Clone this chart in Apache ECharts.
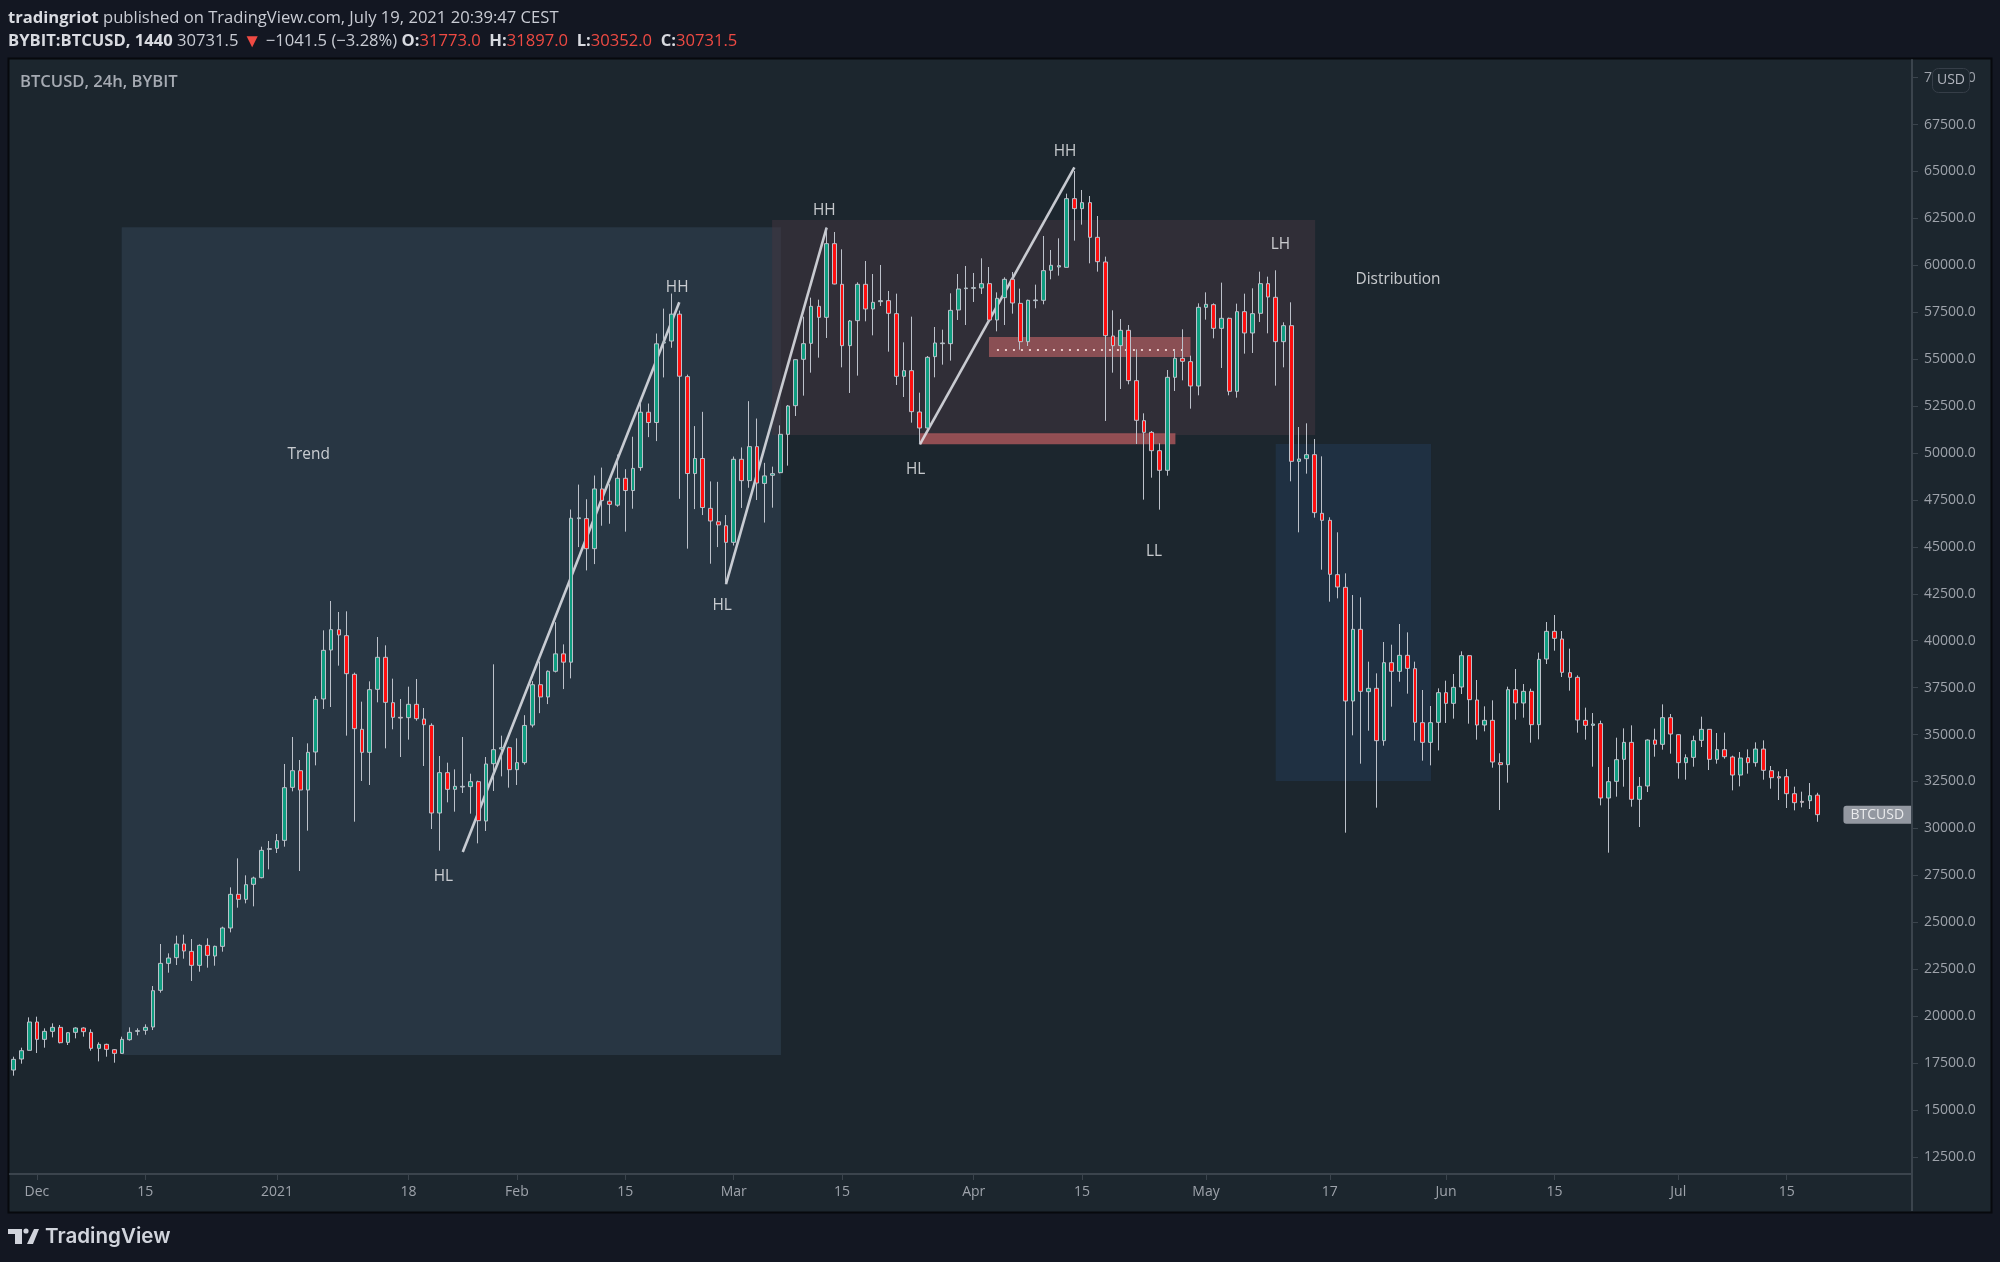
<!DOCTYPE html>
<html>
<head>
<meta charset="utf-8">
<style>html,body{margin:0;padding:0;background:#131722}#chart{width:2000px;height:1262px}</style>
<script src="https://cdn.jsdelivr.net/npm/echarts@6/dist/echarts.min.js"></script>
</head>
<body>
<div id="chart"></div>
<script>
// BTCUSD daily candles, 28 Nov 2020 to 19 Jul 2021
const opens = [
17127,17713,18175,19684,18761,19187,19400,18601,19134,19365,
19134,18281,18494,18210,18015,18743,19187,19240,19418,21372,
22810,23112,23840,23449,22703,23769,23201,23716,24693,26486,
26220,27019,27374,28884,28937,29363,32187,33075,32045,34070,
36894,39504,40588,40268,38208,35278,34052,37409,39114,36698,
35917,35899,36610,35828,35491,30820,32969,32081,32205,32223,
32489,30393,33448,34230,34301,33129,33504,35506,37655,37002,
38371,39298,38856,46504,46504,44903,48085,47431,47221,48653,
48000,49222,52172,51624,55859,55965,57397,54068,48906,49707,
47052,46336,46125,45240,49665,48527,50339,48380,48810,48952,
50995,52522,54991,55843,57815,57228,61153,58987,55719,57051,
58987,57672,58063,58116,57424,54085,54387,52185,51332,55133,
55825,55825,57619,58756,58774,58791,59022,57086,58276,59253,
57974,55932,58116,58134,59733,59910,59892,63551,63018,63338,
61491,60177,56234,55719,56536,53854,51723,51101,50124,49077,
54032,55044,54866,53570,57761,57903,56642,57175,53286,57530,
56394,57442,59022,58294,55932,56784,49556,49698,49911,46786,
46413,43518,42843,36787,40605,37284,37462,34674,38829,38368,
39220,38510,35632,34584,35650,37231,36663,37533,39202,36840,
35508,35757,33501,33395,37391,36680,37302,35526,39024,40499,
40090,38296,38048,35757,35490,35579,31619,32507,33679,34584,
31548,32258,34709,34478,35899,34993,33501,33785,34691,35277,
33679,34194,33803,32844,33767,33501,34229,33075,32755,32755,
31849,31441,31476,31773];
const highs = [
17837,18317,19933,19969,19347,19613,19524,19151,19400,19400,
19294,18601,18530,18246,18903,19400,19347,19560,21602,23840,
23343,24284,24337,24106,23822,24142,23751,24764,26859,28404,
27499,27428,29026,29328,29701,33431,34869,33644,34532,37054,
40552,42115,41529,41565,38297,36752,37835,40197,39753,37977,
36894,37551,37959,36414,35597,33857,33502,33146,34869,32915,
32542,33803,38741,34940,34354,34798,36032,37845,38898,38413,
40984,39804,46989,48316,47537,48801,49222,48337,49918,49138,
50866,52699,52636,56365,57692,58493,57587,54174,51434,52193,
48485,48464,46694,49812,50297,52762,51835,49475,49272,51474,
52558,54991,57264,58276,58170,62006,61775,60851,57086,59093,
60230,59537,60017,58632,58489,55896,57264,53215,55168,56713,
56571,58507,59537,59964,59591,60372,59910,58560,59360,59644,
58756,58170,58969,61562,60816,61438,63817,65025,64013,63693,
62627,60461,57601,57140,56820,55524,52114,51172,50515,54422,
55488,56589,55186,57974,58560,57974,59076,57211,57957,58489,
58774,59662,59395,59733,56962,58028,51385,51581,50746,49822,
46573,45774,43589,42435,42310,38883,38261,39930,39788,40889,
40445,38883,37373,36520,37462,37870,38226,39433,39238,37906,
36503,36822,34003,37550,38492,37692,37444,39362,40996,41369,
40516,39575,38154,36432,36147,35739,33270,34833,35330,35490,
32737,34744,35313,36609,36094,35010,33945,34940,35952,35295,
35082,35100,33874,34069,34211,34584,34691,33324,33039,33164,
32222,31956,32418,31897];
const lows = [
16825,17465,18175,18033,18317,18867,18548,18459,18814,18903,
18157,17588,17837,17518,17997,18690,18974,19009,19258,21247,
22313,22721,23059,21869,22366,22579,22685,23432,24461,25776,
26007,25847,27339,27818,28689,29026,31974,27730,29878,33359,
36361,36467,38670,34940,30358,32525,32312,36716,34265,35278,
33803,34727,35739,33324,29967,28813,31388,30891,31885,30784,
29204,29861,31992,32773,32170,32312,33399,35380,36138,36623,
38308,37423,37992,44987,43744,44081,46125,46230,47137,45809,
47031,49054,50845,50634,54026,55606,47558,44903,47010,46694,
44102,44987,43007,45071,47073,48148,47495,46294,47087,48917,
49325,51972,53055,54280,55080,56127,58987,54565,53197,54121,
57015,56269,57832,55399,53623,52984,51616,50462,51297,54032,
54707,54920,57086,56820,58045,58472,56962,56483,56820,57424,
55506,55701,57708,57921,59253,59449,59892,61313,62166,60106,
59662,51705,54280,53410,53659,50480,47514,48686,46981,48793,
53304,53872,52362,53073,57104,56110,54529,53073,52948,55293,
55328,56980,56376,53588,54565,48490,45773,48899,46555,43784,
42079,42257,29772,34958,33448,35206,31104,34407,36485,37817,
37178,34674,33608,33359,34158,35615,35846,37160,35579,34727,
35171,33235,30979,32436,35792,35899,34567,34744,38758,39468,
38065,37337,35100,34727,33288,31228,28706,31690,32222,31157,
30073,31938,33821,34194,33981,32649,32595,33288,34336,33110,
33448,33714,32027,32240,32915,33288,32595,32116,31512,31086,
30961,31121,31032,30352];
const closes = [
17695,18157,19684,18761,19187,19400,18583,19116,19365,19170,
18281,18494,18228,18015,18761,19134,19223,19400,21354,22810,
23094,23840,23467,22703,23769,23236,23716,24693,26486,26220,
27001,27357,28831,28919,29346,32170,33075,32045,34052,36876,
39487,40588,40304,38243,35313,34052,37391,39114,36716,35917,
35881,36610,35846,35526,30820,32969,32081,32241,32241,32489,
30411,33431,34194,34301,33129,33502,35485,37655,37002,38371,
39298,38856,46525,46546,44903,48085,47473,47263,48653,48000,
49180,52172,51624,55817,55901,57397,54090,48906,49707,47094,
46378,46167,45240,49665,48527,50339,48400,48780,48899,50995,
52504,54973,55825,57815,57228,61153,59004,55719,57033,58987,
57672,58028,58116,57442,54085,54387,52202,51332,55097,55861,
55861,57601,58738,58791,58809,59022,57086,58241,59253,57992,
55932,58134,58152,59715,60000,59981,63551,63018,63338,61491,
60194,56252,55719,56536,53854,51741,51101,50124,49077,54032,
55044,54884,53570,57761,57921,56642,57175,53286,57530,56394,
57424,59022,58312,55932,56784,49556,49680,49911,46821,46413,
43536,42861,36787,40605,37302,37462,34674,38829,38368,39220,
38527,35650,34584,35632,37231,36663,37515,39202,36858,35508,
35757,33537,33395,37391,36680,37302,35526,39007,40499,40126,
38314,38048,35774,35490,35561,31619,32489,33661,34584,31548,
32240,34709,34478,35899,35028,33501,33767,34673,35277,33679,
34194,33821,32844,33750,33501,34229,33093,32702,32684,31849,
31370,31388,31743,30731.5];

// Time axis: day offsets from the first candle and their labels
const tickDays = [3,17,34,51,65,79,93,107,124,138,154,170,185,199,215,229];
const tickLabels = ['Dec','15','2021','18','Feb','15','Mar','15','Apr','15','May','17','Jun','15','Jul','15'];
const priceTicks = [12500,15000,17500,20000,22500,25000,27500,30000,32500,35000,37500,40000,42500,45000,47500,50000,52500,55000,57500,60000,62500,65000,67500,70000];

// Drawn zones: [day from, price top, day to, price bottom, colour]
const zones = [
  [13.95, 62026, 99.1, 17926, 'rgba(52,70,88,0.50)'],
  [97.95, 62415, 168.1, 50960, 'rgba(68,54,64,0.50)'],
  [163.0, 50480, 183.07, 32525, 'rgba(36,61,88,0.48)'],
  [125.97, 56181, 152.0, 55115, 'rgba(168,91,95,0.75)'],
  [117.05, 51050, 150.05, 50464, 'rgba(172,88,92,0.82)']
];
// Trend lines: [day from, price from, day to, price to]
const trendLines = [
  [58.0, 28742, 85.97, 58030],
  [92.0, 43010, 105.0, 62005],
  [117.05, 50464, 137.0, 65223]
];
const midLevel = [127.0, 55489, 151.5, 55489];
// Swing labels: [day, price, text]
const notes = [
  [38.1, 50000, 'Trend'], [55.5, 27517, 'HL'], [85.7, 58914, 'HH'], [91.5, 41923, 'HL'],
  [104.7, 63001, 'HH'], [116.5, 49201, 'HL'], [135.8, 66118, 'HH'], [147.3, 44832, 'LL'],
  [163.6, 61157, 'LH'], [178.8, 59325, 'Distribution']
];

const FONT = '"Open Sans", sans-serif';
const candleData = opens.map((o, i) => [i, o, closes[i], lows[i], highs[i]]);
const lastIndex = opens.length - 1;

const chart = echarts.init(document.getElementById('chart'), null, {renderer: 'canvas'});

chart.setOption({
  animation: false,
  backgroundColor: '#131722',
  grid: {left: 9.83, right: 88, top: 60, bottom: 88, show: false},
  xAxis: {
    type: 'value', min: -0.5, max: 245.19, splitLine: {show: false},
    axisLine: {show: true, onZero: false, lineStyle: {color: '#3b444d', width: 2}},
    axisTick: {show: true, length: 6, customValues: tickDays, lineStyle: {color: '#3b444d'}},
    axisLabel: {
      customValues: tickDays, margin: 11, color: '#9ea3ab', fontFamily: FONT, fontSize: 14,
      formatter: v => tickLabels[tickDays.indexOf(v)] || ''
    }
  },
  yAxis: {
    type: 'value', position: 'right', min: 11587, max: 70938, scale: true, splitLine: {show: false},
    axisLine: {show: true, onZero: false, lineStyle: {color: '#3b444d', width: 2}},
    axisTick: {show: true, length: 6, customValues: priceTicks, lineStyle: {color: '#3b444d'}},
    axisLabel: {
      customValues: priceTicks, margin: 12, padding: [1, 0, 0, 0], color: '#9ea3ab', fontFamily: FONT, fontSize: 14,
      formatter: v => v.toFixed(1)
    }
  },
  series: [
    {
      type: 'custom', z: 1, clip: true, silent: true,
      data: zones,
      encode: {x: [0, 2], y: [1, 3]},
      renderItem: (params, api) => {
        const a = api.coord([api.value(0), api.value(1)]);
        const b = api.coord([api.value(2), api.value(3)]);
        return {type: 'rect', shape: {x: a[0], y: a[1], width: b[0] - a[0], height: b[1] - a[1]},
          style: {fill: zones[params.dataIndex][4]}};
      }
    },
    {
      type: 'custom', z: 2, silent: true,
      data: trendLines,
      encode: {x: [0, 2], y: [1, 3]},
      renderItem: (params, api) => {
        const a = api.coord([api.value(0), api.value(1)]);
        const b = api.coord([api.value(2), api.value(3)]);
        return {type: 'line', shape: {x1: a[0], y1: a[1], x2: b[0], y2: b[1]},
          style: {stroke: 'rgba(228,230,236,0.85)', lineWidth: 2.6}};
      }
    },
    {
      type: 'custom', z: 2, silent: true,
      data: [midLevel],
      encode: {x: [0, 2], y: [1, 3]},
      renderItem: (params, api) => {
        const a = api.coord([api.value(0), api.value(1)]);
        const b = api.coord([api.value(2), api.value(3)]);
        return {type: 'line', shape: {x1: a[0], y1: a[1], x2: b[0], y2: b[1]},
          style: {stroke: '#e9c9c9', lineWidth: 2, lineDash: [2, 6]}};
      }
    },
    {
      type: 'candlestick', z: 3, barWidth: 4.2, silent: true,
      encode: {x: 0, y: [1, 2, 3, 4]},
      data: candleData,
      itemStyle: {color: '#0f9d80', color0: '#ff0f0f', borderColor: '#bcc1ca', borderColor0: '#bcc1ca', borderColorDoji: '#bcc1ca', borderWidth: 1}
    },
    {
      type: 'scatter', z: 4, symbolSize: 0, silent: true,
      data: notes.map(n => [n[0], n[1]]),
      label: {
        show: true, position: 'inside', offset: [0, 1.5], color: '#f0f1f4', fontFamily: FONT, fontSize: 15.4,
        formatter: p => notes[p.dataIndex][2]
      }
    },
    {
      type: 'scatter', z: 5, symbolSize: 0, silent: true,
      data: [[240.7, closes[lastIndex]]],
      label: {
        show: true, position: 'inside', formatter: 'BTCUSD', color: '#ffffff', fontFamily: FONT, fontSize: 14,
        backgroundColor: '#b2b5be', borderRadius: [3, 0, 0, 3], padding: [2, 7, 2, 7]
      }
    }
  ],
  graphic: [
    {type: 'rect', z: -10, silent: true, shape: {x: 8.5, y: 58.5, width: 1983, height: 1154}, style: {fill: '#1c262e', stroke: '#07090d', lineWidth: 2}},
    {type: 'line', z: 1, silent: true, shape: {x1: 1912, y1: 1174, x2: 1912, y2: 1211}, style: {stroke: '#3b444d', lineWidth: 2}},
    {type: 'text', z: 10, silent: true, style: {
      x: 8, y: 9.5, fontFamily: FONT, fontSize: 16.6, fill: '#c9ccd4',
      text: '{b|tradingriot} published on TradingView.com, July 19, 2021 20:39:47 CEST',
      rich: {b: {fontFamily: FONT, fontSize: 16.6, fontWeight: 'bold', fill: '#d8dae0'}}
    }},
    {type: 'text', z: 10, silent: true, style: {
      x: 8, y: 32, fontFamily: FONT, fontSize: 16.6, fill: '#c9ccd4',
      text: '{b|BYBIT:BTCUSD, 1440} 30731.5 {t|▼} −1041.5 (−3.28%) {b|O:}{r|31773.0}  {b|H:}{r|31897.0}  {b|L:}{r|30352.0}  {b|C:}{r|30731.5}',
      rich: {
        b: {fontFamily: FONT, fontSize: 16.6, fontWeight: 'bold', fill: '#d8dae0'},
        r: {fontFamily: FONT, fontSize: 16.6, fill: '#ef4a43'},
        t: {fontFamily: FONT, fontSize: 19, fill: '#ef4a43'}
      }
    }},
    {type: 'text', z: 10, silent: true, style: {
      x: 20, y: 73.5, fontFamily: FONT, fontSize: 16.6, fontWeight: 600, fill: '#a6abb3', text: 'BTCUSD, 24h, BYBIT'
    }},
    {type: 'rect', z: 10, silent: true, shape: {x: 1932.5, y: 68.5, width: 37, height: 24, r: 6}, style: {fill: '#1c262e', stroke: '#363e48', lineWidth: 1}},
    {type: 'text', z: 11, silent: true, style: {
      x: 1951, y: 80, align: 'center', verticalAlign: 'middle', fontFamily: FONT, fontSize: 14, fill: '#b2b5be', text: 'USD'
    }},
    // Brand mark
    {type: 'polygon', z: 10, silent: true, shape: {points: [[8,1229],[22,1229],[22,1244],[15,1244],[15,1234],[8,1234]]}, style: {fill: '#d1d4dc'}},
    {type: 'circle', z: 10, silent: true, shape: {cx: 26, cy: 1231, r: 2.6}, style: {fill: '#d1d4dc'}},
    {type: 'polygon', z: 10, silent: true, shape: {points: [[34,1229],[39,1229],[33,1244],[27,1244]]}, style: {fill: '#d1d4dc'}},
    {type: 'text', z: 10, silent: true, style: {
      x: 45, y: 1237, verticalAlign: 'middle', fontFamily: 'Inter, sans-serif', fontSize: 20.6, fontWeight: 600, fill: '#d1d4dc', text: 'TradingView'
    }}
  ]
});
</script>
</body>
</html>
